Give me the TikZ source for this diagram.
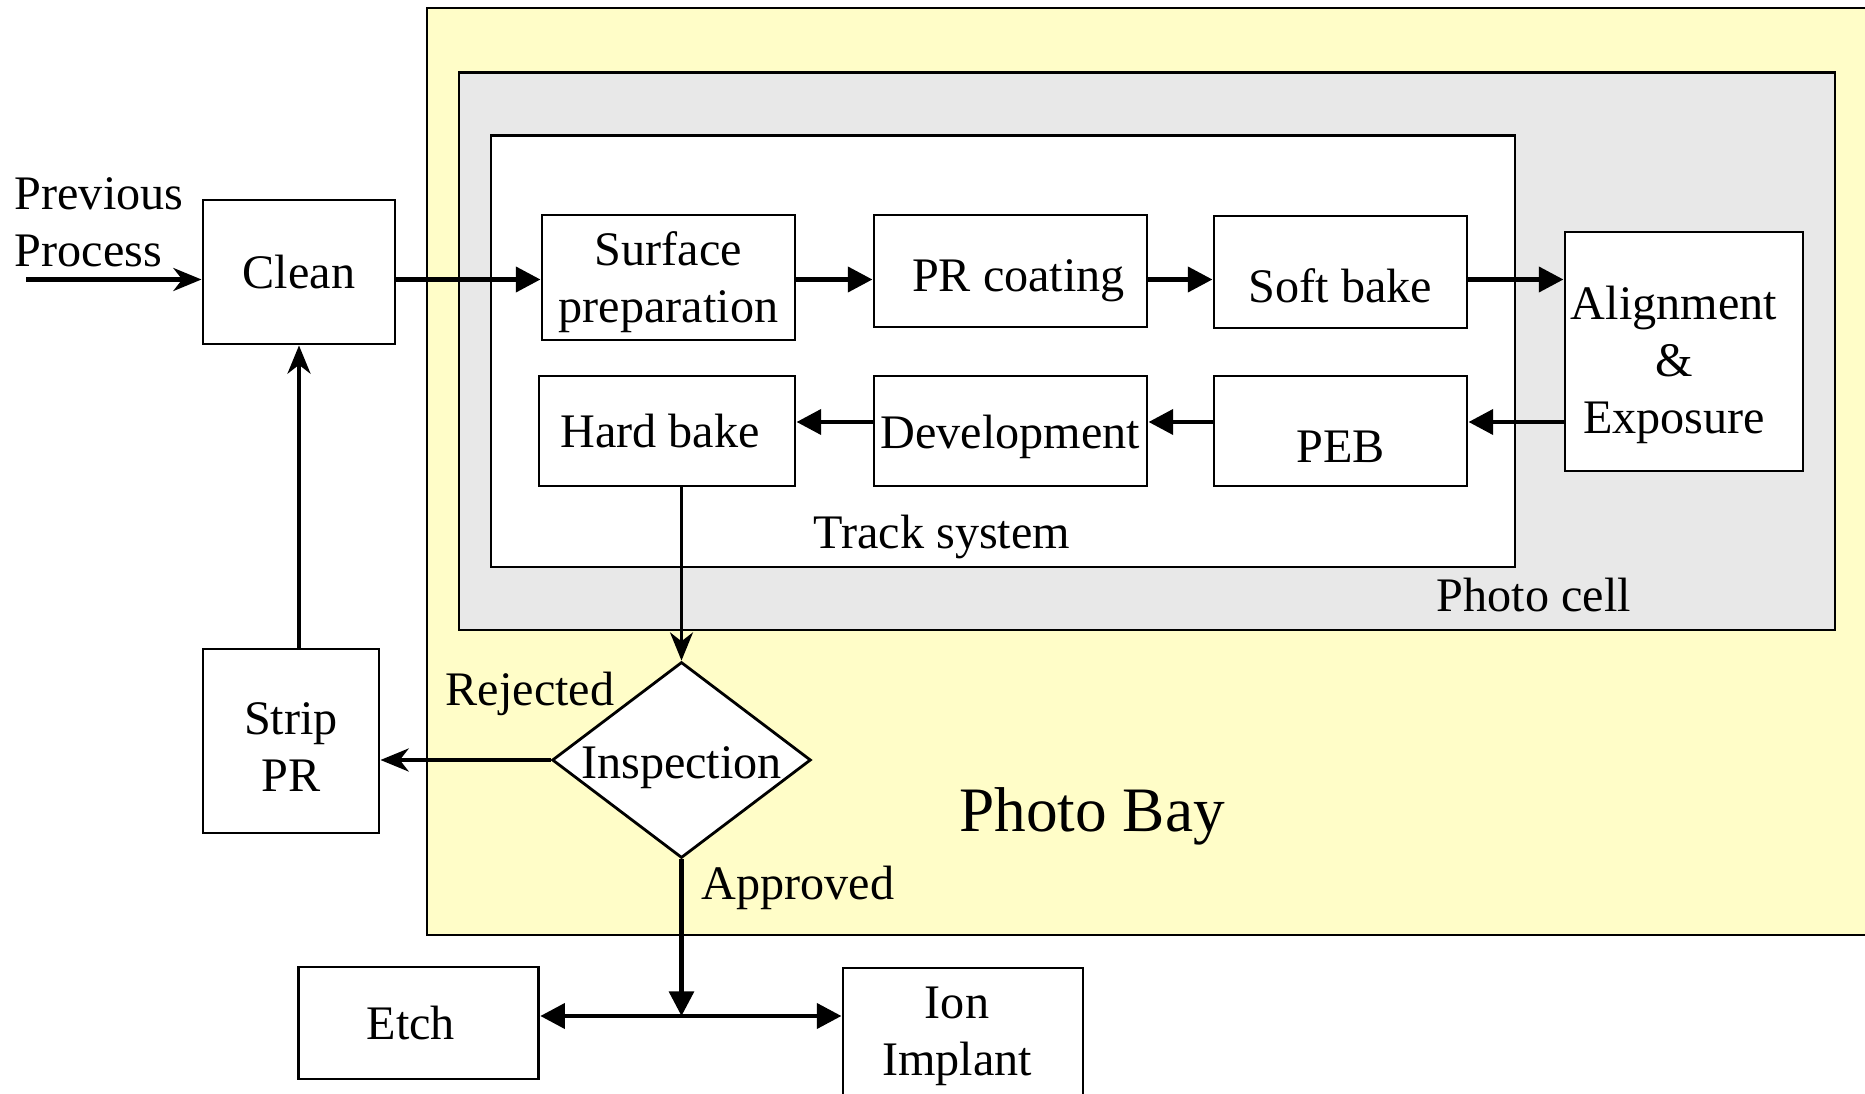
\documentclass[tikz,border=0pt]{standalone}
\usepackage{fontspec}
\setmainfont{Liberation Serif}
\usetikzlibrary{shapes.geometric,arrows.meta}
\definecolor{baycol}{HTML}{FFFDC8}
\definecolor{cellcol}{HTML}{E8E8E8}

\begin{document}
\begin{tikzpicture}[
    x=0.01cm, y=-0.01cm,
    every node/.style={font=\fontsize{13.7}{16.2}\selectfont},
    box/.style={rectangle, draw, fill=white, line width=0.8pt, inner sep=0pt, align=center},
    oneline/.style={text height=#1, text depth=3pt},
    check/.style={diamond, draw, fill=white, line width=0.8pt, inner sep=0pt, aspect=1.32, minimum width=2.52cm, minimum height=1.92cm},
    area/.style={draw, line width=0.8pt, fill=#1},
    arr/.style={-{Stealth[length=8pt, width=6.5pt, inset=2.5pt]}, line width=1.3pt},
    tri/.style={-{Triangle[length=7pt, width=7pt]}, line width=1.4pt}
]
    \useasboundingbox (0,0) rectangle (1865,1094);

    % Bay, cell and track frames
    \draw[area=baycol] (427,8) rectangle (1880,935);
    \draw[area=cellcol] (459,72.5) rectangle (1835,630);
    \draw[area=white] (491,135.5) rectangle (1515,567);
    \node (track) at (942,537) {Track system};
    \node (cell) at (1534,595) {Photo cell};
    \node[font=\fontsize{18}{21}\selectfont] (bay) at (1092,816) {Photo Bay};

    % Process steps
    \node[box, minimum width=1.92cm, minimum height=1.44cm, oneline=12.3pt] (clean) at (299,272) {Clean};
    \node[box, minimum width=2.53cm, minimum height=1.25cm] (surf) at (668.5,277.5) {\rule{0pt}{12.1pt}Surface\\preparation};
    \node[box, minimum width=2.73cm, minimum height=1.12cm, oneline=14.5pt] (coat) at (1010.5,271) {\hspace*{0.16cm}PR coating};
    \node[box, minimum width=2.53cm, minimum height=1.12cm, oneline=20.3pt] (soft) at (1340.5,272) {Soft bake};
    \node[box, minimum width=2.38cm, minimum height=2.39cm] (expo) at (1684,351.5) {\rule{0pt}{17.3pt}Alignment\hspace*{0.2cm}\\\mbox{\&}\hspace*{0.2cm}\mbox{}\\Exposure\hspace*{0.2cm}};
    \node[box, minimum width=2.56cm, minimum height=1.10cm, oneline=12.3pt] (hard) at (667,431) {Hard bake\hspace*{0.14cm}};
    \node[box, minimum width=2.73cm, minimum height=1.10cm, oneline=12.9pt] (dev) at (1010.5,431) {Development};
    \node[box, minimum width=2.53cm, minimum height=1.10cm, oneline=20.7pt] (peb) at (1340.5,431) {PEB};
    \node[box, minimum width=1.76cm, minimum height=1.84cm] (strip) at (291,741) {\rule{0pt}{12.3pt}Strip\\PR};
    \node[check, text height=11.6pt, text depth=0.9pt] (insp) at (681.5,760) {Inspection};
    \node[box, minimum width=2.40cm, minimum height=1.12cm, oneline=12.3pt] (etch) at (418.75,1023) {Etch\hspace*{0.16cm}};
    \node[box, minimum width=2.40cm, minimum height=1.30cm] (ion) at (963,1033) {\rule{0pt}{10.7pt}Ion\hspace*{0.12cm}\\Implant\hspace*{0.12cm}};

    \node[align=left, anchor=west, inner sep=0pt] (prevtxt) at (14,222) {Previous\\Process};
    \node (rej) at (530,694) {Rejected};
    \node (app) at (798,888) {Approved};

    % Flow rows
    \coordinate (r1) at (0,279.5);
    \coordinate (r2) at (0,422);
    \coordinate (r3) at (0,1016);
    \coordinate (prev) at (26,279.5);

    \draw[arr] (prev) -- (clean.west |- r1);
    \draw[tri] (clean.east |- r1) -- (surf.west |- r1);
    \draw[tri] (surf.east |- r1) -- (coat.west |- r1);
    \draw[tri] (coat.east |- r1) -- (soft.west |- r1);
    \draw[tri] (soft.east |- r1) -- (expo.west |- r1);
    \draw[tri] (expo.west |- r2) -- (peb.east |- r2);
    \draw[tri] (peb.west |- r2) -- (dev.east |- r2);
    \draw[tri] (dev.west |- r2) -- (hard.east |- r2);

    % Inspection loop
    \draw[arr, line width=1pt] (insp.north |- hard.south) -- (insp.north);
    \draw[arr] (insp.west) -- (strip.east |- insp.west);
    \draw[arr] (clean.south |- strip.north) -- (clean.south);
    \draw[tri, line width=1.2pt] (insp.south) -- (insp.south |- r3);
    \draw[{Triangle[length=7pt, width=7pt]}-{Triangle[length=7pt, width=7pt]}, line width=1.4pt] (etch.east |- r3) -- (ion.west |- r3);

\end{tikzpicture}
\end{document}
